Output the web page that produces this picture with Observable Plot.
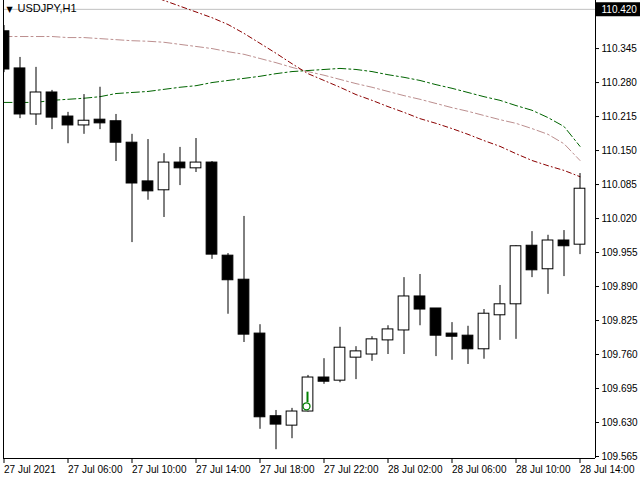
<!DOCTYPE html>
<html><head><meta charset="utf-8">
<script src="https://cdn.jsdelivr.net/npm/d3@7"></script>
<script src="https://cdn.jsdelivr.net/npm/@observablehq/plot@0.6"></script>
<style>
html,body{margin:0;padding:0;background:#fff;}
#chart svg{display:block;}
</style>
</head><body><div id="chart"></div>
<script>
// ---------- data ----------
const symbolLabel = "USDJPY,H1";
const bidPrice = 110.420;

const open  = [110.378,110.307,110.219,110.261,110.215,110.198,110.209,110.206,110.165,110.091,110.074,110.127,110.116,110.127,109.949,109.903,109.800,109.642,109.624,109.651,109.716,109.710,109.754,109.760,109.787,109.806,109.871,109.848,109.800,109.796,109.770,109.835,109.856,109.968,109.923,109.978,109.970];
const high  = [110.389,110.328,110.309,110.265,110.223,110.257,110.271,110.219,110.181,110.171,110.144,110.156,110.173,110.129,109.953,110.024,109.817,109.653,109.657,109.720,109.752,109.812,109.775,109.794,109.815,109.907,109.913,109.848,109.821,109.814,109.846,109.892,109.968,109.995,109.988,109.997,110.106];
const low   = [110.299,110.211,110.198,110.190,110.163,110.181,110.190,110.129,109.974,110.055,110.022,110.083,110.108,109.942,109.837,109.783,109.617,109.578,109.599,109.650,109.703,109.706,109.712,109.747,109.760,109.760,109.815,109.756,109.749,109.741,109.751,109.787,109.789,109.907,109.875,109.909,109.951];
const close = [110.305,110.219,110.261,110.213,110.198,110.207,110.202,110.165,110.087,110.072,110.127,110.116,110.127,109.951,109.902,109.798,109.640,109.626,109.651,109.716,109.708,109.773,109.766,109.789,109.808,109.871,109.846,109.796,109.794,109.770,109.838,109.856,109.967,109.921,109.978,109.967,110.077];

const maGreen = [110.242,110.242,110.242,110.246,110.248,110.250,110.253,110.259,110.261,110.263,110.267,110.271,110.274,110.280,110.284,110.288,110.292,110.297,110.301,110.303,110.305,110.307,110.305,110.301,110.295,110.290,110.284,110.276,110.269,110.261,110.253,110.246,110.236,110.227,110.213,110.196,110.158];
const maRosy  = [110.368,110.368,110.368,110.368,110.366,110.366,110.364,110.362,110.360,110.359,110.357,110.353,110.349,110.345,110.339,110.334,110.326,110.318,110.309,110.301,110.294,110.286,110.278,110.271,110.263,110.255,110.248,110.240,110.232,110.225,110.217,110.209,110.202,110.192,110.181,110.163,110.131];
const maRed   = [null,null,null,null,null,null,null,null,null,110.448,110.437,110.426,110.415,110.404,110.391,110.374,110.355,110.336,110.316,110.297,110.284,110.271,110.257,110.246,110.234,110.223,110.211,110.202,110.192,110.181,110.169,110.158,110.144,110.131,110.121,110.112,110.100];

const timeTickIndex  = [0,4,8,12,16,20,24,28,32,36];
const timeTickLabels = ["27 Jul 2021","27 Jul 06:00","27 Jul 10:00","27 Jul 14:00","27 Jul 18:00","27 Jul 22:00","28 Jul 02:00","28 Jul 06:00","28 Jul 10:00","28 Jul 14:00"];
const priceTicks = [109.565,109.630,109.695,109.760,109.825,109.890,109.955,110.020,110.085,110.150,110.215,110.280,110.345,110.410];

// buy-signal marker (hand icon) on one bar
const signalIndex = 19;
const signalFingerTop = 109.688;
const signalFingerBottom = 109.668;
const signalFist = 109.661;

// ---------- layout ----------
const W = 640, H = 480, mL = 3, mR = 45, mT = 0, mB = 22;
const barPx = 16, firstBarOffsetPx = 0.5;
const plotW = W - mL - mR, plotH = H - mT - mB;
const xDomain = [-firstBarOffsetPx / barPx, (plotW - firstBarOffsetPx) / barPx];
const pxPerUnit = 523, bottomPad = 2;
const yDomain = [priceTicks[0] - bottomPad / pxPerUnit, priceTicks[0] - bottomPad / pxPerUnit + plotH / pxPerUnit];

const candles = open.map((o, i) => ({i, open: o, high: high[i], low: low[i], close: close[i]}));
const series = (arr) => arr.map((v, i) => ({i, v}));
const halfBody = 0.335;
const fmt = d3.format(".3f");
// the top tick label sits under the bid-price box, as in the terminal
const priceTickFormat = d => (Math.abs(d - bidPrice) < 0.02 ? "" : fmt(d));

const chart = Plot.plot({
  width: W, height: H,
  marginLeft: mL, marginRight: mR, marginTop: mT, marginBottom: mB,
  style: {fontFamily: "'Liberation Sans',Arial,sans-serif", fontSize: "10px", color: "black", background: "white", overflow: "visible"},
  x: {domain: xDomain, axis: null},
  y: {domain: yDomain, axis: null},
  marks: [
    Plot.ruleY([bidPrice], {stroke: "#c0c0c0", strokeWidth: 1}),
    Plot.line(series(maRosy), {x: "i", y: "v", stroke: "#bc8f8f", strokeWidth: 1, strokeDasharray: "8,3,2,3", clip: true}),
    Plot.line(series(maGreen), {x: "i", y: "v", stroke: "#006400", strokeWidth: 1, strokeDasharray: "8,3,2,3", clip: true}),
    Plot.line(series(maRed), {x: "i", y: "v", stroke: "#8b0000", strokeWidth: 1, strokeDasharray: "5,3,1,3", clip: true, defined: d => d.v != null}),
    Plot.ruleX(candles, {x: "i", y1: "low", y2: "high", stroke: "black", strokeWidth: 1, clip: true}),
    Plot.rect(candles, {
      x1: d => d.i - halfBody, x2: d => d.i + halfBody,
      y1: "open", y2: "close",
      fill: d => d.close > d.open ? "white" : "black",
      stroke: "black", strokeWidth: 1, clip: true
    }),
    // hand marker
    Plot.ruleX([signalIndex], {y1: () => signalFingerBottom, y2: () => signalFingerTop, stroke: "#008000", strokeWidth: 2, dx: -0.5}),
    Plot.dot([signalIndex], {x: d => d, y: () => signalFist, r: 3.5, stroke: "#008000", strokeWidth: 1.3, fill: "white", dx: -1.5}),
    // frame
    Plot.ruleX([xDomain[0]], {stroke: "black"}),
    Plot.ruleX([xDomain[1]], {stroke: "black"}),
    Plot.ruleY([yDomain[0]], {stroke: "black"}),
    // axes
    Plot.axisY({anchor: "right", label: null, ticks: priceTicks, tickFormat: priceTickFormat, tickSize: 3, tickPadding: 3, stroke: "black", fill: "black"}),
    Plot.axisX({label: null, ticks: timeTickIndex, tickFormat: d => timeTickLabels[timeTickIndex.indexOf(d)], textAnchor: "start", tickSize: 5, tickPadding: 2, stroke: "black", fill: "black"}),
    // bid price box
    Plot.ruleY([bidPrice], {x1: () => xDomain[1] + 0.5 / barPx, x2: () => xDomain[1] + mR / barPx, stroke: "black", strokeWidth: 14}),
    Plot.text([bidPrice], {x: () => xDomain[1], y: d => d, text: d => fmt(d), dx: 6, textAnchor: "start", fill: "white"}),
    // title
    Plot.text(["▼"], {frameAnchor: "top-left", dx: 3, dy: 6, textAnchor: "start", lineAnchor: "top", fontSize: 8, fontFamily: "DejaVu Sans"}),
    Plot.text([symbolLabel], {frameAnchor: "top-left", dx: 14, dy: 4, textAnchor: "start", lineAnchor: "top", fontSize: 11})
  ]
});
document.getElementById("chart").appendChild(chart);
</script>
</body></html>
